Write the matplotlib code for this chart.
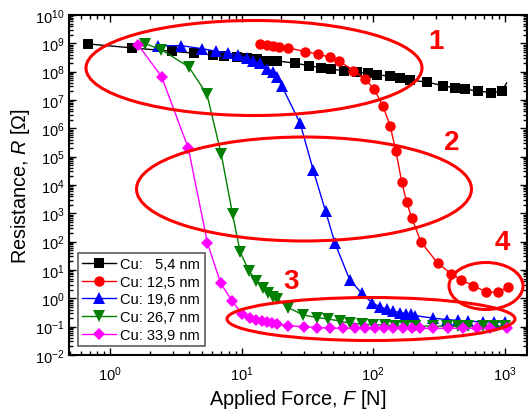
import matplotlib
matplotlib.use("Agg")
import matplotlib.pyplot as plt
from matplotlib.patches import Ellipse
from matplotlib.ticker import LogLocator, NullFormatter, FixedLocator
import numpy as np

plt.rcParams['font.family'] = ['Liberation Sans', 'DejaVu Sans']
plt.rcParams['mathtext.fontset'] = 'custom'
plt.rcParams['mathtext.rm'] = 'Liberation Sans'
plt.rcParams['mathtext.it'] = 'Liberation Sans:italic'
plt.rcParams['mathtext.bf'] = 'Liberation Sans:bold'

# ---------------- data ----------------
series_labels = ["Cu:   5,4 nm", "Cu: 12,5 nm", "Cu: 19,6 nm", "Cu: 26,7 nm", "Cu: 33,9 nm"]

# Cu 5,4 nm (black squares); last point is the line end without marker
f_54 = [0.68, 1.46, 2.95, 4.38, 6.04, 7.36, 9.2, 10.95, 13.0, 15.5, 18.5, 25.5, 32.8, 40,
        48, 60.5, 75, 92, 107, 135, 160, 191, 256, 339, 420, 501, 626, 785, 952, 1035]
logr_54 = [8.98, 8.84, 8.72, 8.65, 8.59, 8.57, 8.53, 8.48, 8.45, 8.39, 8.38, 8.30, 8.21, 8.14,
           8.08, 8.04, 7.98, 7.94, 7.89, 7.84, 7.78, 7.71, 7.63, 7.51, 7.42, 7.38, 7.32, 7.26, 7.31, 7.60]

# Cu 12,5 nm (red circles)
f_125 = [13.8, 15.5, 17.5, 19.4, 22.7, 30.4, 38, 47, 55.5, 70.8, 86.9, 101.8, 119, 134.6,
         149, 165, 180, 197, 232, 310, 392, 467, 576, 727, 893, 1054]
logr_125 = [8.98, 8.94, 8.92, 8.88, 8.84, 8.71, 8.62, 8.51, 8.37, 8.04, 7.74, 7.39, 6.78, 6.10,
            5.21, 4.12, 3.39, 2.83, 1.98, 1.24, 0.87, 0.65, 0.45, 0.22, 0.22, 0.39]

# Cu 19,6 nm (blue up triangles)
f_196 = [2.32, 3.47, 5.01, 6.45, 7.94, 9.40, 10.95, 12.3, 13.8, 15.5, 17.3, 18.7, 20.2, 27.9,
         35, 43.5, 51.4, 66.5, 82, 97.7, 112.5, 127, 142.6, 159.6, 178, 194.5, 208.5, 286, 365,
         442, 526, 683, 835, 1003]
logr_196 = [8.91, 8.92, 8.81, 8.72, 8.65, 8.58, 8.47, 8.39, 8.29, 8.11, 8.00, 7.80, 7.50, 6.18,
            4.54, 3.08, 1.94, 0.65, 0.18, -0.15, -0.30, -0.38, -0.45, -0.50, -0.54, -0.57, -0.61,
            -0.70, -0.75, -0.78, -0.80, -0.84, -0.84, -0.84]

# Cu 26,7 nm (green down triangles)
f_267 = [1.85, 2.46, 3.97, 5.46, 7.01, 8.55, 9.75, 11.35, 12.97, 14.45, 15.8, 17.2, 18.6, 22.7,
         29.5, 37.7, 45.7, 55.6, 66.8, 82, 100.5, 123, 147, 175, 208, 286, 365, 443, 527, 687,
         832, 1008]
logr_267 = [8.99, 8.77, 8.17, 7.20, 5.09, 2.97, 1.64, 0.98, 0.62, 0.36, 0.19, 0.03, -0.01, -0.33,
            -0.59, -0.68, -0.73, -0.80, -0.88, -0.91, -0.93, -0.94, -0.97, -0.98, -0.98, -0.98,
            -0.99, -0.99, -0.99, -0.99, -0.99, -0.99]

# Cu 33,9 nm (magenta diamonds)
f_339 = [1.64, 2.47, 3.94, 5.51, 6.95, 8.47, 10.09, 11.6, 12.97, 14.3, 15.7, 17.15, 18.7, 22.7,
         29.9, 37.5, 47.1, 59.1, 73, 87, 103.5, 121, 143, 169, 198, 228, 288, 374, 486, 615,
         776, 1040]
logr_339 = [8.94, 7.82, 5.30, 1.95, 0.53, -0.09, -0.55, -0.71, -0.76, -0.80, -0.83, -0.87, -0.91,
            -0.97, -1.00, -1.03, -1.05, -1.06, -1.06, -1.06, -1.06, -1.06, -1.06, -1.06, -1.06,
            -1.06, -1.06, -1.06, -1.06, -1.06, -1.06, -1.06]

annot_labels = ["1", "2", "3", "4"]

# ---------------- figure ----------------
W, H = 528, 414
fig = plt.figure(figsize=(W / 100, H / 100), dpi=100)
ax_l, ax_r, ax_t, ax_b = 69, 527, 16, 356
ax = fig.add_axes([ax_l / W, 1 - ax_b / H, (ax_r - ax_l) / W, (ax_b - ax_t) / H])

styles = [
    dict(color="black", marker="s", ms=7.0),
    dict(color="red", marker="o", ms=7.5),
    dict(color="blue", marker="^", ms=8.0),
    dict(color="green", marker="v", ms=8.0),
    dict(color="magenta", marker="D", ms=6.0),
]
data = [(f_54, logr_54), (f_125, logr_125), (f_196, logr_196), (f_267, logr_267), (f_339, logr_339)]

for (f, lr), st, lab in zip(data, styles, series_labels):
    f = np.asarray(f, float)
    r = 10.0 ** np.asarray(lr, float)
    n = len(f)
    mk = list(range(n - 1)) if st["marker"] == "s" else list(range(n))
    ax.plot(f, r, color=st["color"], lw=1.0, marker=st["marker"], ms=st["ms"],
            markevery=mk, markeredgewidth=0, label=lab)

ax.set_xscale("log")
ax.set_yscale("log")
ax.set_xlim(0.488, 1480)
ax.set_ylim(1e-2, 1e10)

ax.yaxis.set_major_locator(FixedLocator([10.0 ** k for k in range(-2, 11)]))
ax.yaxis.set_minor_locator(LogLocator(base=10, subs=np.arange(2, 10), numticks=100))
ax.yaxis.set_minor_formatter(NullFormatter())
ax.xaxis.set_major_locator(FixedLocator([1, 10, 100, 1000]))
ax.xaxis.set_minor_locator(LogLocator(base=10, subs=np.arange(2, 10), numticks=100))
ax.xaxis.set_minor_formatter(NullFormatter())

ax.tick_params(which="both", direction="in", top=True, right=True, labelsize=10.5, width=1.0)
ax.tick_params(which="major", length=5)
ax.tick_params(which="minor", length=3)
ax.tick_params(axis="x", which="major", pad=7)
ax.tick_params(axis="y", which="major", pad=3)
for s in ax.spines.values():
    s.set_linewidth(1.5)

ax.set_xlabel(r"Applied Force, $\it{F}$ [N]", fontsize=14.3, labelpad=3)
ax.set_ylabel(r"Resistance, $\it{R}$ [Ω]", fontsize=14.3, labelpad=2)

leg = ax.legend(loc="lower left", bbox_to_anchor=((78 - ax_l) / (ax_r - ax_l), (ax_b - 347) / (ax_b - ax_t)),
                fontsize=10.5, frameon=True, fancybox=False, handlelength=2.3, handletextpad=0.3,
                borderpad=0.3, labelspacing=0.25, borderaxespad=0)
leg.get_frame().set_edgecolor("#333333")
leg.get_frame().set_linewidth(1.2)

# ---------------- annotations (pixel geometry -> axes fraction) ----------------
def px(x, y):
    return (x - ax_l) / (ax_r - ax_l), (ax_b - y) / (ax_b - ax_t)

ellipses = [(254, 69, 336, 95), (304, 190, 335, 104), (371, 320, 288, 43), (486, 287, 74, 47)]
for cx, cy, w, h in ellipses:
    xy = px(cx, cy)
    e = Ellipse(xy, w / (ax_r - ax_l), h / (ax_b - ax_t), transform=ax.transAxes,
                fill=False, edgecolor="red", lw=2.2, zorder=5, clip_on=False)
    ax.add_patch(e)

label_pos = [(436, 42), (452, 143), (291, 282), (502, 243)]
for t, (x, y) in zip(annot_labels, label_pos):
    ax.text(*px(x, y), t, transform=ax.transAxes, color="red", fontsize=20, fontweight="bold",
            ha="center", va="center")

fig.savefig("out.png", dpi=100)
